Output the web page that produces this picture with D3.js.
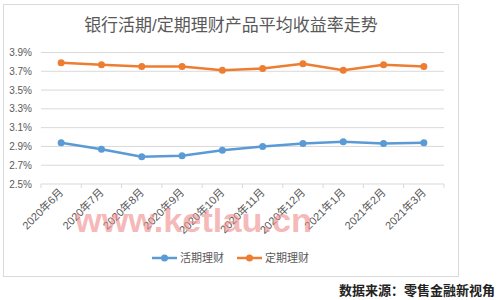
<!DOCTYPE html>
<html>
<head>
<meta charset="utf-8">
<script src="https://cdn.jsdelivr.net/npm/d3@7"></script>
<style>
  body { margin: 0; background: #fff; }
  svg { display: block; font-family: "Liberation Sans", "Noto Sans CJK SC", sans-serif; }
</style>
</head>
<body>
<div id="chart"></div>
<script>
const months = ["2020年6月", "2020年7月", "2020年8月", "2020年9月", "2020年10月",
  "2020年11月", "2020年12月", "2021年1月", "2021年2月", "2021年3月"];

const current_rates = [2.94, 2.87, 2.79, 2.80, 2.86, 2.90, 2.93, 2.95, 2.93, 2.94];
const fixed_rates = [3.79, 3.77, 3.75, 3.75, 3.71, 3.73, 3.78, 3.71, 3.77, 3.75];

const y_ticks = [2.5, 2.7, 2.9, 3.1, 3.3, 3.5, 3.7, 3.9];

const series_names = ["活期理财", "定期理财"];
const colors = ["#5B9BD5", "#ED7D31"];

const width = 499;
const height = 300;

const plot = { left: 41, right: 444, top: 52.5, bottom: 184 };

const svg = d3.select("#chart")
  .append("svg")
  .attr("width", width)
  .attr("height", height);

// outer chart border
svg.append("rect")
  .attr("x", 3.5)
  .attr("y", 4.5)
  .attr("width", 455)
  .attr("height", 272)
  .attr("fill", "#fff")
  .attr("stroke", "#d9d9d9");

svg.append("text")
  .attr("x", 231)
  .attr("y", 31)
  .attr("text-anchor", "middle")
  .attr("font-size", 17)
  .attr("fill", "#595959")
  .text("银行活期/定期理财产品平均收益率走势");

const x = d3.scaleBand()
  .domain(months)
  .range([plot.left, plot.right]);

const y = d3.scaleLinear()
  .domain([2.5, 3.9])
  .range([plot.bottom, plot.top]);

// gridlines
svg.append("g")
  .selectAll("line")
  .data(y_ticks)
  .enter()
  .append("line")
  .attr("x1", plot.left)
  .attr("x2", plot.right)
  .attr("y1", (d) => y(d))
  .attr("y2", (d) => y(d))
  .attr("stroke", "#d9d9d9")
  .attr("stroke-width", 1);

// y labels
svg.append("g")
  .selectAll("text")
  .data(y_ticks)
  .enter()
  .append("text")
  .attr("x", 32)
  .attr("y", (d) => y(d) + 3.5)
  .attr("text-anchor", "end")
  .attr("font-size", 10)
  .attr("fill", "#595959")
  .text((d) => d.toFixed(1) + "%");

// x axis tick marks at band edges
const edges = months.map((m) => x(m)).concat([plot.right]);
svg.append("g")
  .selectAll("line")
  .data(edges)
  .enter()
  .append("line")
  .attr("x1", (d) => d)
  .attr("x2", (d) => d)
  .attr("y1", plot.bottom)
  .attr("y2", plot.bottom + 4)
  .attr("stroke", "#d9d9d9");

// x labels, rotated
svg.append("g")
  .selectAll("text")
  .data(months)
  .enter()
  .append("text")
  .attr("transform", (d) => `translate(${x(d) + x.bandwidth() / 2 + 3},${plot.bottom + 9}) rotate(-45)`)
  .attr("text-anchor", "end")
  .attr("font-size", 11)
  .attr("fill", "#595959")
  .text((d) => d);

const line = d3.line()
  .x((d, i) => x(months[i]) + x.bandwidth() / 2)
  .y((d) => y(d));

[current_rates, fixed_rates].forEach((data, k) => {
  svg.append("path")
    .datum(data)
    .attr("d", line)
    .attr("fill", "none")
    .attr("stroke", colors[k])
    .attr("stroke-width", 2.5)
    .attr("stroke-linejoin", "round");

  svg.append("g")
    .selectAll("circle")
    .data(data)
    .enter()
    .append("circle")
    .attr("cx", (d, i) => x(months[i]) + x.bandwidth() / 2)
    .attr("cy", (d) => y(d))
    .attr("r", 3.5)
    .attr("fill", colors[k]);
});

// legend
const legend_x = [152, 237];
series_names.forEach((name, k) => {
  const g = svg.append("g").attr("transform", `translate(${legend_x[k]},258)`);
  g.append("line")
    .attr("x1", 0).attr("x2", 25)
    .attr("stroke", colors[k])
    .attr("stroke-width", 2.5);
  g.append("circle")
    .attr("cx", 12.5)
    .attr("r", 3.5)
    .attr("fill", colors[k]);
  g.append("text")
    .attr("x", 28)
    .attr("y", 4)
    .attr("font-size", 11)
    .attr("fill", "#595959")
    .text(name);
});

// watermark
svg.append("text")
  .attr("x", 75)
  .attr("y", 232)
  .attr("font-size", 34)
  .attr("font-weight", "bold")
  .attr("textLength", 237)
  .attr("lengthAdjust", "spacingAndGlyphs")
  .attr("fill", "#f08a8a")
  .attr("fill-opacity", 0.6)
  .text("www.ketlau.cn");

// source note
svg.append("text")
  .attr("x", 495)
  .attr("y", 295)
  .attr("text-anchor", "end")
  .attr("font-size", 13)
  .attr("font-weight", "bold")
  .attr("fill", "#222")
  .text("数据来源：零售金融新视角");
</script>
</body>
</html>
